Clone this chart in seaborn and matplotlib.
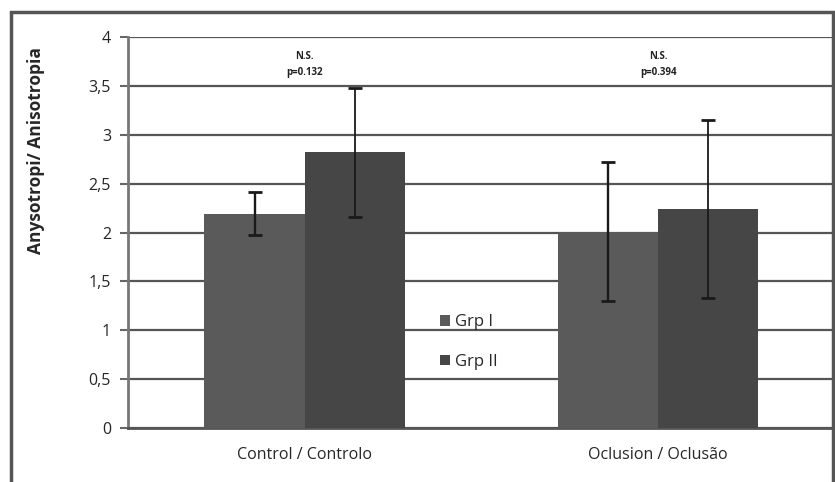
import pandas as pd
import numpy as np
import seaborn as sns
import matplotlib.pyplot as plt
from matplotlib.patches import Rectangle

categories = ['Control / Controlo', 'Oclusion / Oclusão']
groups = ['Grp I', 'Grp II']
grp1_mean = [2.19, 2.01]
grp2_mean = [2.82, 2.24]
grp1_err = [0.22, 0.71]
grp2_err = [0.66, 0.91]
p_labels = ['N.S.\np=0.132', 'N.S.\np=0.394']
yticks = [0, 0.5, 1, 1.5, 2, 2.5, 3, 3.5, 4]
ytick_labels = ['0', '0,5', '1', '1,5', '2', '2,5', '3', '3,5', '4']

df = pd.DataFrame({
    'cat': categories * 2,
    'grp': [groups[0]] * 2 + [groups[1]] * 2,
    'val': grp1_mean + grp2_mean,
    'err': grp1_err + grp2_err,
})

sns.set_style('white')
plt.rcParams['font.family'] = ['Open Sans', 'DejaVu Sans']

fig = plt.figure(figsize=(8.35, 4.82), dpi=100)
ax = fig.add_axes([0.153, 0.112, 0.847, 0.811])

# outer frame around the chart
fig.patches.append(Rectangle((0.013, -0.01), 0.985, 0.985, transform=fig.transFigure,
                             fill=False, edgecolor='#555555', linewidth=2.5))

sns.barplot(data=df, x='cat', y='val', hue='grp', hue_order=groups,
            palette=['#5a5a5a', '#464646'], width=0.566, gap=0,
            saturation=1, errorbar=None, ax=ax, zorder=3, linewidth=0)

# error bars taken from the drawn bars
for cont, errs, lw in zip(ax.containers, [grp1_err, grp2_err], [1.7, 1.3]):
    xs = [b.get_x() + b.get_width() / 2 for b in cont]
    ys = [b.get_height() for b in cont]
    ax.errorbar(xs, ys, yerr=errs, fmt='none', ecolor='#1a1a1a',
                elinewidth=lw, capsize=5, capthick=2, zorder=4)

for i, txt in enumerate(p_labels):
    ax.text(i, 3.72, txt, ha='center', va='center', fontsize=7,
            fontweight='bold', linespacing=1.7, color='#222222')

ax.set_ylim(0, 4)
ax.set_xlim(-0.5, 1.5)
ax.set_yticks(yticks)
ax.set_yticklabels(ytick_labels, fontsize=11.5)
ax.set_xticks([0, 1])
ax.set_xticklabels(categories, fontsize=11.5)
ax.tick_params(axis='x', length=0, pad=14)
ax.tick_params(axis='y', length=6, width=1.5, color='#666666', direction='out', left=True, pad=6)
ax.set_xticks([0.5], minor=True)
ax.tick_params(axis='x', which='minor', length=5, width=1.5, color='#666666')
ax.yaxis.grid(True, color='#555555', linewidth=1.6, zorder=0)
ax.set_axisbelow(True)
for s in ['top', 'right']:
    ax.spines[s].set_visible(False)
ax.spines['left'].set_color('#777777')
ax.spines['left'].set_linewidth(2)
ax.spines['bottom'].set_color('#555555')
ax.spines['bottom'].set_linewidth(2)
ax.set_xlabel('')
ax.set_ylabel('Anysotropi/ Anisotropia', fontsize=12.5, fontweight='bold')
ax.yaxis.set_label_coords(-0.117, 0.71)

ax.legend(loc='center left', bbox_to_anchor=(0.42, 0.22), frameon=False,
          fontsize=12, handlelength=0.6, handleheight=0.6, handletextpad=0.3,
          labelspacing=1.4)

fig.savefig('out.png', dpi=100)
